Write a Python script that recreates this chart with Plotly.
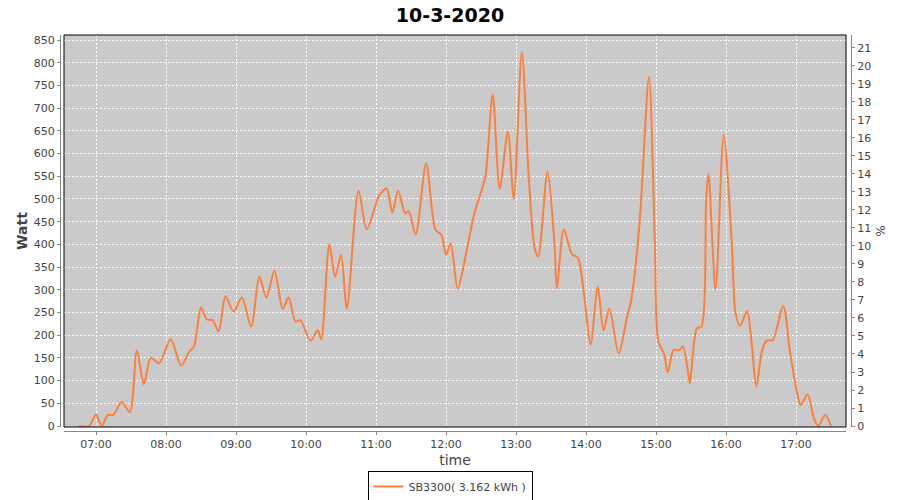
import plotly.graph_objects as go

DAY = "2020-03-10 "
times = ["06:45", "06:54", "07:00", "07:05", "07:10", "07:15", "07:22", "07:29", "07:35", "07:41",
         "07:47", "07:54", "08:04", "08:13", "08:20", "08:24", "08:30", "08:35", "08:40", "08:45",
         "08:51", "08:58", "09:05", "09:13", "09:20", "09:26", "09:33", "09:40", "09:45", "09:51",
         "09:55", "10:04", "10:10", "10:13", "10:20", "10:25", "10:30", "10:35", "10:45", "10:52",
         "11:00", "11:02", "11:09", "11:14", "11:19", "11:25", "11:28", "11:34", "11:43", "11:51",
         "11:56", "12:00", "12:04", "12:10", "12:17", "12:24", "12:31", "12:34", "12:40", "12:46",
         "12:53", "12:58", "13:05", "13:11", "13:16", "13:19", "13:27", "13:33", "13:35", "13:41",
         "13:48", "13:53", "13:58", "14:04", "14:10", "14:15", "14:20", "14:28", "14:35", "14:39",
         "14:46", "14:54", "14:59", "15:02", "15:07", "15:10", "15:15", "15:20", "15:23", "15:27",
         "15:29", "15:35", "15:39", "15:43", "15:45", "15:51", "15:58", "16:05", "16:08", "16:12",
         "16:18", "16:22", "16:26", "16:31", "16:35", "16:40", "16:49", "16:55", "17:01", "17:04",
         "17:10", "17:15", "17:19", "17:25", "17:30"]
watts = [0, 0, 25, 0, 24, 25, 53, 31, 166, 92,
         150, 138, 191, 133, 164, 175, 261, 235, 233, 208,
         285, 252, 283, 219, 329, 283, 342, 258, 283, 230,
         233, 188, 211, 191, 400, 329, 377, 259, 518, 433,
         490, 505, 523, 470, 518, 468, 473, 422, 578, 432,
         421, 377, 402, 302, 377, 465, 523, 553, 730, 523,
         648, 501, 823, 545, 391, 373, 560, 399, 303, 433,
         378, 371, 296, 180, 307, 211, 259, 160, 237, 281,
         450, 769, 406, 186, 158, 118, 167, 167, 175, 127,
         94, 215, 219, 498, 555, 301, 641, 402, 252, 220,
         253, 182, 87, 167, 188, 189, 264, 160, 72, 46,
         70, 20, 0, 24, 0]

series_name = "SB3300( 3.162 kWh )"
title_text = "10-3-2020"
x_range = [DAY + "06:32:34", DAY + "17:42:51"]
y_range = [-2.2, 861]
pct_per_watt = 1 / 39.64
pct_range = [y_range[0] * pct_per_watt, y_range[1] * pct_per_watt]

W, H = 900, 500
ml, mr, mt, mb = 60, 49, 35, 69
pw, ph = W - ml - mr, H - mt - mb
xdom = [4 / pw, 1 - 5 / pw]
ydom = [4 / ph, 1]

FONT = "DejaVu Sans"
TXT = "#444444"
AX = "#888888"
ORANGE = "#ff7f3a"

x = [DAY + t for t in times]

fig = go.Figure()
fig.add_trace(go.Scatter(x=x, y=watts, mode="lines", name=series_name,
                         line=dict(color=ORANGE, width=2, shape="spline", smoothing=0.8)))
fig.add_trace(go.Scatter(x=[x[0]], y=[0], xaxis="x2", yaxis="y2", mode="lines",
                         showlegend=False, hoverinfo="skip", line=dict(width=0)))
fig.add_trace(go.Scatter(x=[x[0]], y=[0], xaxis="x2", yaxis="y3", mode="lines",
                         showlegend=False, hoverinfo="skip", line=dict(width=0)))

grid = dict(showgrid=True, gridcolor="white", gridwidth=1, griddash="2px,2px",
            zeroline=False, showline=False, ticks="", showticklabels=False, automargin=False)

fig.update_layout(
    width=W, height=H,
    margin=dict(l=ml, r=mr, t=mt, b=mb, autoexpand=False),
    paper_bgcolor="white", plot_bgcolor="#cacaca",
    font=dict(family=FONT, size=11, color=TXT),
    title=dict(text="<b>" + title_text + "</b>", x=0.5, xanchor="center", y=1 - 15 / H,
               yanchor="middle", yref="container", font=dict(family=FONT, size=19, color="black")),
    xaxis=dict(domain=xdom, type="date", range=x_range, tick0=DAY + "07:00", dtick=3600000,
               anchor="y", **grid),
    yaxis=dict(domain=ydom, range=y_range, dtick=50, anchor="x", **grid),
    xaxis2=dict(overlaying="x", anchor="free", position=0, type="date", range=x_range,
                tick0=DAY + "07:00", dtick=3600000, tickformat="%H:%M", automargin=False,
                showgrid=False, zeroline=False, showline=True, linecolor=AX, linewidth=1,
                ticks="outside", ticklen=3, tickcolor=AX,
                tickfont=dict(family=FONT, size=11, color=TXT),
                title=dict(text="time", font=dict(family=FONT, size=14, color=TXT), standoff=4)),
    yaxis2=dict(overlaying="y", anchor="free", position=0, side="left", range=y_range, dtick=50,
                automargin=False,
                showgrid=False, zeroline=False, showline=True, linecolor=AX, linewidth=1,
                ticks="outside", ticklen=3, tickcolor=AX,
                tickfont=dict(family=FONT, size=11, color=TXT),
                title=dict(text="<b>Watt</b>", font=dict(family=FONT, size=14, color=TXT), standoff=1)),
    yaxis3=dict(overlaying="y", anchor="free", position=1, side="right", range=pct_range, dtick=1,
                automargin=False,
                showgrid=False, zeroline=False, showline=True, linecolor=AX, linewidth=1,
                ticks="outside", ticklen=3, tickcolor=AX,
                tickfont=dict(family=FONT, size=11, color=TXT),
                title=dict(text="%", font=dict(family=FONT, size=12, color=TXT), standoff=6)),
    showlegend=True,
    legend=dict(orientation="h", x=0.5, xanchor="center", xref="container",
                y=(H - 471) / H, yanchor="top", yref="container",
                bgcolor="white", bordercolor="black", borderwidth=1,
                font=dict(family=FONT, size=11, color=TXT), itemwidth=30),
    shapes=[dict(type="rect", xref="x domain", yref="y domain", x0=0, x1=1, y0=0, y1=1,
                 line=dict(color="black", width=1), fillcolor="rgba(0,0,0,0)", layer="above")],
)

fig.write_html("out.html", config={"displayModeBar": False},
               post_script="document.body.style.margin='0';document.body.style.padding='0';")
